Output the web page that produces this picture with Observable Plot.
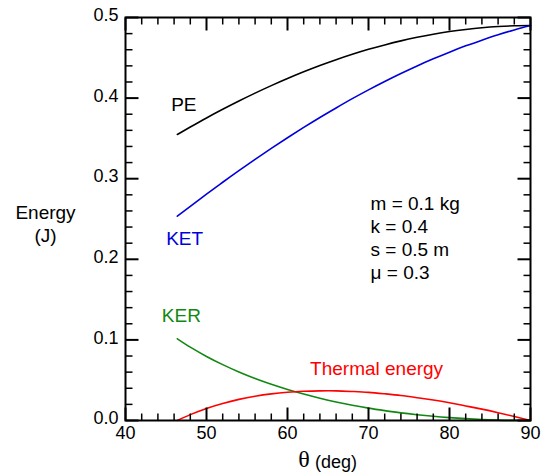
<!DOCTYPE html>
<html>
<head>
<meta charset="utf-8">
<script src="https://cdn.jsdelivr.net/npm/d3@7"></script>
<script src="https://cdn.jsdelivr.net/npm/@observablehq/plot@0.6"></script>
<style>
  html, body { margin: 0; padding: 0; background: #fff; }
  #chart svg { display: block; }
</style>
</head>
<body>
<div id="chart"></div>
<script>
// θ (deg) sample points
const theta = [46.4, 48, 50, 52, 54, 56, 58, 60, 62, 64, 66, 68, 70, 72, 74, 76, 78, 80, 82, 84, 86, 88, 90];
// Energies (J)
const PE      = [0.3549, 0.3641, 0.3754, 0.3861, 0.3964, 0.4062, 0.4155, 0.4243, 0.4326, 0.4404, 0.4476, 0.4543, 0.4605, 0.4660, 0.4710, 0.4754, 0.4793, 0.4826, 0.4852, 0.4873, 0.4888, 0.4897, 0.4900];
const KET     = [0.2535, 0.2658, 0.2809, 0.2956, 0.3100, 0.3240, 0.3376, 0.3508, 0.3636, 0.3760, 0.3878, 0.3993, 0.4102, 0.4206, 0.4305, 0.4399, 0.4487, 0.4570, 0.4648, 0.4719, 0.4786, 0.4846, 0.4900];
const KER     = [0.1014, 0.0910, 0.0795, 0.0693, 0.0602, 0.0521, 0.0449, 0.0385, 0.0328, 0.0276, 0.0230, 0.0190, 0.0154, 0.0123, 0.0095, 0.0072, 0.0052, 0.0036, 0.0023, 0.0013, 0.0005, 0.0001, 0.0000];
const Thermal = [0.0000, 0.0073, 0.0150, 0.0212, 0.0262, 0.0301, 0.0330, 0.0350, 0.0362, 0.0368, 0.0368, 0.0360, 0.0349, 0.0331, 0.0310, 0.0283, 0.0254, 0.0220, 0.0181, 0.0141, 0.0097, 0.0050, 0.0000];

const seriesNames  = ["PE", "KET", "KER", "Thermal energy"];
const seriesValues = [PE, KET, KER, Thermal];
const seriesColors = ["#000000", "#0000dd", "#118811", "#ff0000"];

// Curve label centre points (data coordinates)
const labelTheta  = [47.2, 47.3, 46.9, 71.0];
const labelEnergy = [0.392, 0.225, 0.130, 0.064];

// Parameter annotation
const paramLines  = ["m = 0.1 kg", "k = 0.4", "s = 0.5 m", "\u03BC = 0.3"];
const paramTheta  = 70.25;
const paramEnergy = [0.2686, 0.2401, 0.2116, 0.1832];

// Axes and ticks
const xDomain = [40, 90];
const yDomain = [0, 0.5];
const xMajor = [40, 50, 60, 70, 80, 90];
const xMinor = [42, 44, 46, 48, 52, 54, 56, 58, 62, 64, 66, 68, 72, 74, 76, 78, 82, 84, 86, 88];
const yMajor = [0, 0.1, 0.2, 0.3, 0.4, 0.5];
const yMinor = [0.02, 0.04, 0.06, 0.08, 0.12, 0.14, 0.16, 0.18, 0.22, 0.24, 0.26, 0.28, 0.32, 0.34, 0.36, 0.38, 0.42, 0.44, 0.46, 0.48];

const lineData = seriesNames.flatMap((name, i) =>
  theta.map((t, j) => ({series: name, theta: t, energy: seriesValues[i][j]})));
const labelData = seriesNames.map((name, i) => ({name, t: labelTheta[i], e: labelEnergy[i], color: seriesColors[i]}));
const paramData = paramLines.map((s, i) => ({s, e: paramEnergy[i]}));

const FONT = "'Liberation Sans', Arial, Helvetica, sans-serif";
const W = 545, H = 476, ML = 125, MR = 15, MT = 17, MB = 56;
const PW = W - ML - MR, PH = H - MT - MB;
const MAJ = 13, MIN = 7;
// tick lengths converted from pixels to data units
const yPer = (yDomain[1] - yDomain[0]) / PH;
const xPer = (xDomain[1] - xDomain[0]) / PW;

// Inward ticks on all four sides
const tickRows = [];
for (const [vals, len, w] of [[xMinor, MIN, 1.5], [xMajor, MAJ, 2]]) for (const v of vals) {
  tickRows.push({x1: v, x2: v, y1: yDomain[0], y2: yDomain[0] + len * yPer, w});
  tickRows.push({x1: v, x2: v, y1: yDomain[1], y2: yDomain[1] - len * yPer, w});
}
for (const [vals, len, w] of [[yMinor, MIN, 1.5], [yMajor, MAJ, 2]]) for (const v of vals) {
  tickRows.push({y1: v, y2: v, x1: xDomain[0], x2: xDomain[0] + len * xPer, w});
  tickRows.push({y1: v, y2: v, x1: xDomain[1], x2: xDomain[1] - len * xPer, w});
}

const plot = Plot.plot({
  width: W,
  height: H,
  marginLeft: ML,
  marginRight: MR,
  marginTop: MT,
  marginBottom: MB,
  style: {fontFamily: FONT, fontSize: "18px", color: "#000", background: "#fff"},
  x: {domain: xDomain, label: null, axis: null},
  y: {domain: yDomain, label: null, axis: null},
  color: {domain: seriesNames, range: seriesColors},
  marks: [
    Plot.line(lineData, {x: "theta", y: "energy", z: "series", stroke: "series", strokeWidth: 1.6, curve: "natural"}),
    Plot.link(tickRows, {x1: "x1", x2: "x2", y1: "y1", y2: "y2", stroke: "#000", strokeWidth: "w"}),
    Plot.axisX({anchor: "bottom", ticks: xMajor, tickSize: 0, tickPadding: 6, tickFormat: d => String(d), label: null, fontSize: 18, fill: "#000"}),
    Plot.axisY({anchor: "left", ticks: yMajor, tickSize: 0, tickPadding: 7, tickFormat: d3.format(".1f"), label: null, fontSize: 18, fill: "#000", dy: -2}),
    Plot.frame({stroke: "#000", strokeWidth: 2}),
    // curve labels
    Plot.text(labelData, {x: "t", y: "e", text: "name", fill: "color", textAnchor: "middle", fontSize: 19}),
    // parameters
    Plot.text(paramData, {x: () => paramTheta, y: "e", text: "s", textAnchor: "start", fontSize: 19, fill: "#000"}),
    // axis titles
    Plot.text(["\u03B8"], {frameAnchor: "bottom", text: d => d, textAnchor: "middle", dx: -24, dy: 46, fontSize: 24, fill: "#000", fontFamily: "'Liberation Serif', 'Times New Roman', serif"}),
    Plot.text(["(deg)"], {frameAnchor: "bottom", text: d => d, textAnchor: "start", dx: -13, dy: 47, fontSize: 18, fill: "#000"}),
    Plot.text(["Energy"], {frameAnchor: "left", text: d => d, textAnchor: "middle", dx: -80, dy: -6, fontSize: 19, fill: "#000"}),
    Plot.text(["(J)"], {frameAnchor: "left", text: d => d, textAnchor: "middle", dx: -80, dy: 17, fontSize: 19, fill: "#000"})
  ]
});
document.getElementById("chart").appendChild(plot);
</script>
</body>
</html>
